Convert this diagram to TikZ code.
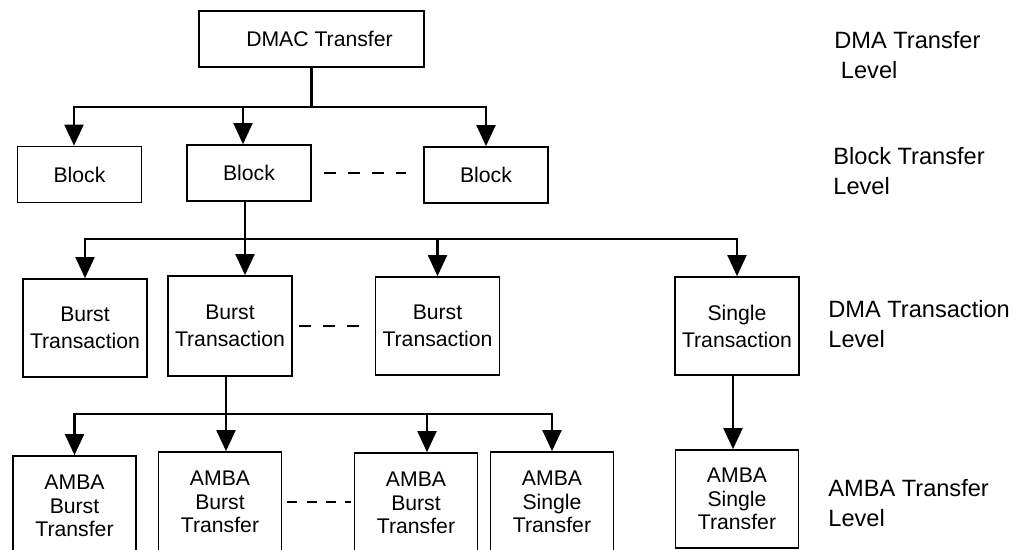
\documentclass[tikz,border=0pt]{standalone}
\usepackage{fontspec}
\setmainfont{Liberation Sans}
\usetikzlibrary{arrows.meta, positioning}

\tikzset{
    basebox/.style={draw, line width=0.85pt, inner sep=0pt, align=center,
        font=\fontsize{10.6}{13.5}\selectfont},
    blockbox/.style={basebox, minimum width=62pt, minimum height=28pt},
    transbox/.style={basebox, minimum width=62pt, minimum height=49pt},
    ambabox/.style={basebox, minimum width=61.5pt, minimum height=50pt,
        font=\fontsize{10.6}{11.75}\selectfont},
    levellabel/.style={anchor=west, inner sep=0pt, align=left,
        font=\fontsize{11.8}{14.75}\selectfont},
    wire/.style={line width=1.05pt},
    wirearrow/.style={wire, -{Triangle[length=10.5pt, width=9.5pt]}},
    dots/.style={line width=1.05pt, dash pattern=on 6.2pt off 5.8pt}
}

\begin{document}
\begin{tikzpicture}[x=0.5pt, y=-0.5pt]
    \useasboundingbox (0,0) rectangle (1030,550);
    \clip (0,0) rectangle (1030,550);

    \node[basebox, minimum width=112.5pt, minimum height=28pt] (dmac) at (311.5,39) {\hspace*{8pt}DMAC Transfer};

    \node[blockbox] (blkA) at (79.5,174.5) {Block};
    \node[blockbox] (blkB) at (249,173) {Block};
    \node[blockbox] (blkC) at (486,175) {Block};

    \node[transbox] (btA) at (85,328) {Burst\\Transaction};
    \node[transbox, minimum height=50pt] (btB) at (230,326) {Burst\\Transaction};
    \node[transbox] (btC) at (437.5,326) {Burst\\Transaction};
    \node[transbox] (st) at (737,326) {Single\\Transaction};

    \node[ambabox] (amA) at (74.5,506) {AMBA\\Burst\\Transfer};
    \node[ambabox] (amB) at (220,502) {AMBA\\Burst\\Transfer};
    \node[ambabox] (amC) at (416,503) {AMBA\\Burst\\Transfer};
    \node[ambabox] (amD) at (552,502) {AMBA\\Single\\Transfer};
    \node[ambabox, minimum height=49pt] (amE) at (737,499) {AMBA\\Single\\Transfer};

    \node[levellabel] (lvlDMA) at (834,55) {DMA Transfer\\~Level};
    \node[levellabel] (lvlBlock) at (833,171) {Block Transfer\\Level};
    \node[levellabel] (lvlTrans) at (828,324) {DMA Transaction\\Level};
    \node[levellabel] (lvlAMBA) at (828,503) {AMBA Transfer\\Level};

    \coordinate (busA) at (0,107);
    \coordinate (busB) at (0,239);
    \coordinate (busC) at (0,414);
    \coordinate (blkAin) at ([xshift=-2.75pt]blkA.north);
    \coordinate (blkBin) at ([xshift=-3pt]blkB.north);
    \coordinate (blkBout) at ([xshift=-2pt]blkB.south);
    \coordinate (btBout) at ([xshift=-2pt]btB.south);
    \coordinate (amCin) at ([xshift=5.5pt]amC.north);

    \foreach \t in {blkAin, blkBin, blkC.north}
        \draw[wirearrow] (dmac.south) -- (dmac.south |- busA) -| (\t);

    \draw[wirearrow] (blkBout) -- (blkBout |- btB.north);
    \foreach \t in {btA.north, btC.north, st.north}
        \draw[wirearrow] (blkBout) -- (blkBout |- busB) -| (\t);

    \draw[wirearrow] (btBout) -- (btBout |- amB.north);
    \foreach \t in {amA.north, amCin, amD.north}
        \draw[wirearrow] (btBout) -- (btBout |- busC) -| (\t);

    \draw[wirearrow] ([xshift=-2pt]st.south) -- ([xshift=-2pt]amE.north);

    \draw[dots, shorten <=6pt, shorten >=8.5pt] (blkB.east) -- (blkB.east -| blkC.west);
    \draw[dots, shorten <=3pt, shorten >=3pt] (btB.east) -- (btB.east -| btC.west);
    \draw[dots, dash pattern=on 5pt off 4.6pt, shorten <=2.5pt, shorten >=1.5pt] (amB.east) -- (amB.east -| amC.west);
\end{tikzpicture}
\end{document}
